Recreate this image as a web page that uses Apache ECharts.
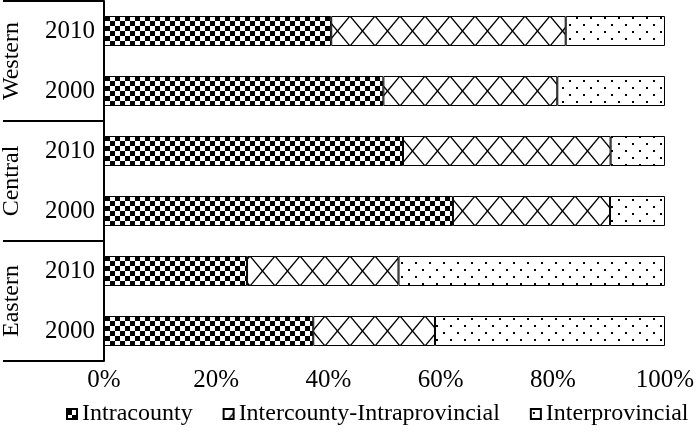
<!DOCTYPE html>
<html><head><meta charset="utf-8">
<script src="https://cdn.jsdelivr.net/npm/echarts@6/dist/echarts.min.js"></script>
<style>html,body{margin:0;padding:0;background:#fff}#c{width:700px;height:432px}</style>
</head><body><div id="c"></div>
<script>
// Data (bottom-to-top order as drawn by a category y axis)
const regions = ['Eastern', 'Central', 'Western'];
const years = ['2000', '2010'];
const seriesNames = ['Intracounty', 'Intercounty-Intraprovincial', 'Interprovincial'];
const intracounty     = [37.3, 25.5, 62.2, 53.3, 49.8, 40.5];
const intercounty     = [21.7, 27.0, 28.0, 37.0, 31.0, 41.8];
const interprovincial = [41.0, 47.5,  9.8,  9.7, 19.2, 17.7];

const rows = [];
regions.forEach(r => years.forEach(y => rows.push(r + ' ' + y)));

const FONT = 'Liberation Serif';

function makeCanvas(w, h) {
  const c = document.createElement('canvas');
  c.width = w; c.height = h;
  const g = c.getContext('2d');
  g.fillStyle = '#fff'; g.fillRect(0, 0, w, h);
  return [c, g];
}
function checkerPattern() {
  const [c, g] = makeCanvas(10, 10);
  g.fillStyle = '#000';
  g.fillRect(0, 1, 5, 5);
  g.fillRect(5, 6, 5, 4);
  g.fillRect(5, 0, 5, 1);
  return c;
}
function latticePattern() {
  const W = 25, H = 30;
  const [c, g] = makeCanvas(W, H);
  g.strokeStyle = '#000';
  g.lineWidth = 1.4;
  const s = H / W;
  const cx = W / 2;
  for (let k = -3; k <= 3; k++) {
    g.beginPath();
    g.moveTo(-W, 1 + s * (-W - cx) + H * k);
    g.lineTo(2 * W, 1 + s * (2 * W - cx) + H * k);
    g.stroke();
    g.beginPath();
    g.moveTo(-W, 1 - s * (-W - cx) + H * k);
    g.lineTo(2 * W, 1 - s * (2 * W - cx) + H * k);
    g.stroke();
  }
  return c;
}
function dotPattern() {
  const [c, g] = makeCanvas(14, 14);
  g.fillStyle = '#000';
  g.fillRect(2, 3, 2, 2);
  g.fillRect(9, 10, 2, 2);
  return c;
}
const patterns = [checkerPattern(), latticePattern(), dotPattern()];
const values = [intracounty, intercounty, interprovincial];

const chart = echarts.init(document.getElementById('c'), null, {renderer: 'canvas'});
chart.setOption({
  animation: false,
  backgroundColor: '#fff',
  grid: {left: 101, right: 35, top: 1, bottom: 71, containLabel: false},
  xAxis: {
    type: 'value', min: 0, max: 100, interval: 20,
    axisLine: {show: false}, axisTick: {show: false}, splitLine: {show: false},
    axisLabel: {formatter: v => v + '%', fontFamily: FONT, fontSize: 25, color: '#000', margin: 7}
  },
  yAxis: [{
    type: 'category', data: rows,
    axisLine: {show: true, lineStyle: {color: '#000', width: 2}},
    axisTick: {show: false},
    axisLabel: {formatter: v => v.split(' ')[1], fontFamily: FONT, fontSize: 25, color: '#000', margin: 9}
  }, {
    type: 'category', data: regions, position: 'left', offset: 0,
    axisLine: {show: false},
    axisTick: {show: true, length: 101, lineStyle: {color: '#000', width: 2}},
    axisLabel: {rotate: 90, fontFamily: FONT, fontSize: 24, color: '#000', margin: 80}
  }],
  legend: {
    left: 66, top: 402, padding: 0, icon: 'rect', itemWidth: 10, itemHeight: 10, itemGap: 30,
    textStyle: {fontFamily: FONT, fontSize: 24, color: '#000'},
    data: seriesNames
  },
  series: seriesNames.map((n, i) => ({
    name: n, type: 'bar', stack: 'total', yAxisIndex: 0, barWidth: 30,
    data: values[i],
    itemStyle: {color: {image: patterns[i], repeat: 'repeat'}, borderColor: '#000', borderWidth: 1},
    emphasis: {disabled: true}
  }))
});
</script></body></html>
